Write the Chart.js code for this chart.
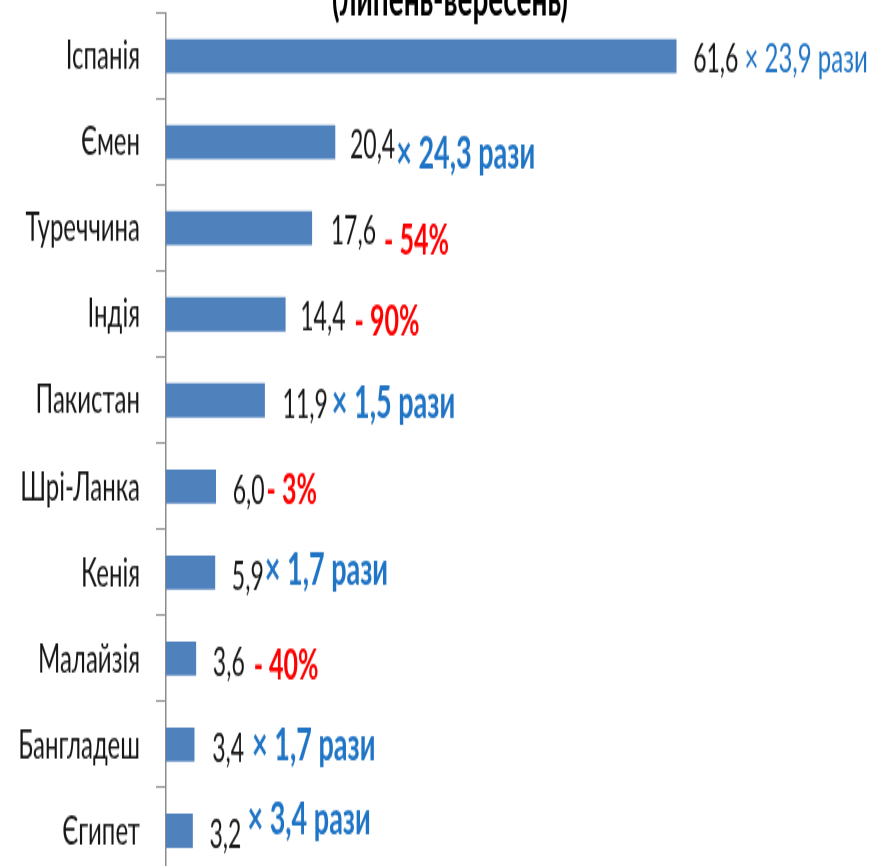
<!DOCTYPE html>
<html lang="uk">
<head>
<meta charset="utf-8">
<title>Країни (липень-вересень)</title>
<script src="https://cdn.jsdelivr.net/npm/chart.js@4.4.1/dist/chart.umd.min.js"></script>
<style>
  html, body { margin: 0; padding: 0; background: #fff; overflow: hidden; }
  #wrap { width: 877px; height: 866px; overflow: hidden; }
  /* the reference picture is stretched vertically, so is this canvas */
  #chart { display: block; transform: scaleY(1.72); transform-origin: 0 0; }
</style>
</head>
<body>
<div id="wrap"><canvas id="chart" width="877" height="508"></canvas></div>
<script>
const countries = ['Іспанія', 'Ємен', 'Туреччина', 'Індія', 'Пакистан', 'Шрі-Ланка', 'Кенія', 'Малайзія', 'Бангладеш', 'Єгипет'];
const values = [61.6, 20.4, 17.6, 14.4, 11.9, 6.0, 5.9, 3.6, 3.4, 3.2];
const changes = ['× 23,9 рази', '× 24,3 рази', '- 54%', '- 90%', '× 1,5 рази', '- 3%', '× 1,7 рази', '- 40%', '× 1,7 рази', '× 3,4 рази'];
const subtitle = '(липень-вересень)';

// styling / label placement (screen px, before the vertical stretch is undone)
const STRETCH = 1.72;
const valueGap = [17, 15, 19, 15, 18, 17, 17, 17, 18, 17];
const changeGap = [6, 1, 8, 9, 4, 2, 1, 9, 8, 6];
const changeDy = [3, 12, 12, 8, 3, 4, -2, 7, 1, -12];
const FONT = 'Lato, "Liberation Sans", sans-serif';

const fmt = v => v.toFixed(1).replace('.', ',');

const barLabels = {
    id: 'barLabels',
    afterDatasetsDraw(chart) {
        const ctx = chart.ctx;
        const meta = chart.getDatasetMeta(0);
        ctx.save();
        ctx.textAlign = 'left';
        ctx.textBaseline = 'middle';
        meta.data.forEach((bar, i) => {
            let x = bar.x + valueGap[i];
            const txt = fmt(values[i]);
            ctx.font = `23px ${FONT}`;
            ctx.fillStyle = '#161616';
            ctx.fillText(txt, x, bar.y + 4 / STRETCH);
            x += ctx.measureText(txt).width + changeGap[i];

            const up = changes[i].startsWith('×');
            if (i === 0) {
                ctx.font = `24px ${FONT}`;
            } else {
                ctx.font = up ? `bold 27px ${FONT}` : `bold 25px ${FONT}`;
            }
            ctx.fillStyle = up ? '#1f74c6' : '#ff0000';
            ctx.fillText(changes[i], x, bar.y + changeDy[i] / STRETCH);
        });

        // title, its upper part is cut off like in the picture
        ctx.textAlign = 'center';
        ctx.textBaseline = 'alphabetic';
        ctx.font = `bold 28px ${FONT}`;
        ctx.fillStyle = '#000';
        ctx.fillText(subtitle, 450, 16 / STRETCH);
        ctx.restore();
    }
};

new Chart(document.getElementById('chart'), {
    type: 'bar',
    data: {
        labels: countries,
        datasets: [{
            data: values,
            backgroundColor: '#4f81bd',
            borderWidth: 0,
            barThickness: 33 / STRETCH
        }]
    },
    options: {
        indexAxis: 'y',
        responsive: false,
        animation: false,
        layout: {
            padding: { top: 13 / STRETCH, right: 7, bottom: 0, left: 0 }
        },
        scales: {
            x: {
                display: false,
                min: 0,
                max: 85
            },
            y: {
                afterFit(scale) {
                    scale.width = 166;
                    scale.paddingTop = 0;
                    scale.paddingBottom = 0;
                },
                grid: {
                    display: true,
                    drawOnChartArea: false,
                    drawTicks: true,
                    tickLength: 10,
                    offset: true,
                    color: '#8c8c8c'
                },
                border: {
                    display: true,
                    color: '#8c8c8c',
                    width: 1.5
                },
                ticks: {
                    padding: 16,
                    color: '#161616',
                    font: { family: FONT, size: 24 }
                }
            }
        },
        plugins: {
            legend: { display: false },
            tooltip: { enabled: false },
            title: { display: false }
        }
    },
    plugins: [barLabels]
});
</script>
</body>
</html>
